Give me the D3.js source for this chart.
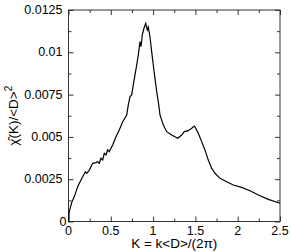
<!DOCTYPE html>
<html>
<head>
<meta charset="utf-8">
<script src="https://cdn.jsdelivr.net/npm/d3@7"></script>
<style>
  body { margin: 0; background: #fff; }
  text { font-family: "Liberation Sans", Arial, sans-serif; fill: #000; }
</style>
</head>
<body>
<div id="chart"></div>
<script>
// values
const kValues = [0, 0.009, 0.041, 0.069, 0.109, 0.128, 0.168, 0.199, 0.215, 0.246,
  0.286, 0.325, 0.345, 0.364, 0.384, 0.404, 0.423, 0.443, 0.463, 0.482,
  0.522, 0.561, 0.600, 0.641, 0.688, 0.707, 0.727, 0.747, 0.766, 0.786,
  0.806, 0.825, 0.845, 0.857, 0.872, 0.892, 0.913, 0.931, 0.943, 0.963,
  0.983, 1.002, 1.022, 1.043, 1.061, 1.082, 1.121, 1.161, 1.220, 1.291,
  1.338, 1.369, 1.416, 1.456, 1.487, 1.504, 1.534, 1.574, 1.613, 1.652,
  1.693, 1.732, 1.791, 1.870, 1.948, 2.047, 2.145, 2.244, 2.362, 2.500];
const chiValues = [0, 0.00058, 0.00117, 0.00147, 0.00206, 0.00226, 0.00265, 0.00294, 0.00285, 0.00304,
  0.00344, 0.00348, 0.00353, 0.00344, 0.00374, 0.00363, 0.00403, 0.00393, 0.00423, 0.00413,
  0.00452, 0.00501, 0.00541, 0.00590, 0.00629, 0.00689, 0.00738, 0.00748, 0.00807, 0.00866,
  0.00925, 0.00984, 0.01063, 0.01033, 0.01102, 0.01142, 0.01171, 0.01132, 0.01149, 0.01092,
  0.01004, 0.00925, 0.00846, 0.00767, 0.00708, 0.00629, 0.00570, 0.00531, 0.00511, 0.00492,
  0.00511, 0.00531, 0.00537, 0.00551, 0.00564, 0.00551, 0.00521, 0.00472, 0.00423, 0.00363,
  0.00314, 0.00285, 0.00255, 0.00235, 0.00216, 0.00202, 0.00182, 0.00157, 0.00131, 0.00108];
const xTicks = [0, 0.5, 1, 1.5, 2, 2.5];
const xMinor = [0.25, 0.75, 1.25, 1.75, 2.25];
const yTicks = [0, 0.0025, 0.005, 0.0075, 0.01, 0.0125];
const yMinor = [0.00125, 0.00375, 0.00625, 0.00875, 0.01125];
const yTickLabels = ["0", "0.0025", "0.005", "0.0075", "0.01", "0.0125"];

const margin = {top: 10, right: 11, bottom: 30.5, left: 68.5},
    width = 291 - margin.left - margin.right,
    height = 252 - margin.top - margin.bottom;

let svg = d3.select("#chart")
    .append("svg")
    .attr("width", 291)
    .attr("height", 252);

let g = svg.append("g")
    .attr("transform", "translate(" + margin.left + "," + margin.top + ")");

let x = d3.scaleLinear().domain([0, 2.5]).range([0, width]);
let y = d3.scaleLinear().domain([0, 0.0125]).range([height, 0]);

// inward ticks on every side
function ticks(axis, vals, size) {
    return axis(axis === d3.axisBottom || axis === d3.axisTop ? x : y)
        .tickValues(vals).tickSize(size).tickFormat("");
}
let sides = [
    [d3.axisBottom, "translate(0," + height + ")", -1],
    [d3.axisTop, "translate(0,0)", -1],
    [d3.axisLeft, "translate(0,0)", -1],
    [d3.axisRight, "translate(" + width + ",0)", -1]
];
sides.forEach(s => {
    let horiz = s[0] === d3.axisBottom || s[0] === d3.axisTop;
    let major = g.append("g").attr("transform", s[1])
        .call(ticks(s[0], horiz ? xTicks : yTicks, 5));
    let minor = g.append("g").attr("transform", s[1])
        .call(ticks(s[0], horiz ? xMinor : yMinor, 3));
    [major, minor].forEach(a => {
        a.select(".domain").remove();
        a.selectAll("line").attr("stroke", "#333").attr("stroke-width", 1)
            .attr(horiz ? "y2" : "x2", function() {
                return -(+d3.select(this).attr(horiz ? "y2" : "x2"));
            });
    });
});

// frame
g.append("rect")
    .attr("width", width).attr("height", height)
    .attr("fill", "none").attr("stroke", "#333").attr("stroke-width", 1);

// tick labels
g.selectAll(".xl").data(xTicks).enter().append("text")
    .attr("x", d => x(d)).attr("y", height + 13)
    .attr("text-anchor", "middle").style("font-size", "12.5px")
    .text(d => d3.format("")(d));
g.selectAll(".yl").data(yTicks).enter().append("text")
    .attr("x", d => d === 0 ? -2 : -6).attr("y", d => y(d) + 4)
    .attr("text-anchor", "end").style("font-size", "12.5px")
    .text((d, i) => yTickLabels[i]);

// curve
let data = kValues.map((k, i) => ({k: k, v: chiValues[i]}));
g.append("path")
    .datum(data)
    .attr("fill", "none").attr("stroke", "#000").attr("stroke-width", 1.2)
    .attr("d", d3.line().x(d => x(d.k)).y(d => y(d.v)));

// axis titles
svg.append("text")
    .attr("x", margin.left + width / 2).attr("y", 248)
    .attr("text-anchor", "middle").style("font-size", "13.5px")
    .text("K = k<D>/(2π)");

let yt = svg.append("text")
    .attr("transform", "translate(18," + (margin.top + height / 2) + ") rotate(-90)")
    .attr("text-anchor", "middle").style("font-size", "13.5px");
yt.append("tspan").text("χ\u0302(K)/<D>");
yt.append("tspan").attr("dy", -6).style("font-size", "10px").text("2");
</script>
</body>
</html>
